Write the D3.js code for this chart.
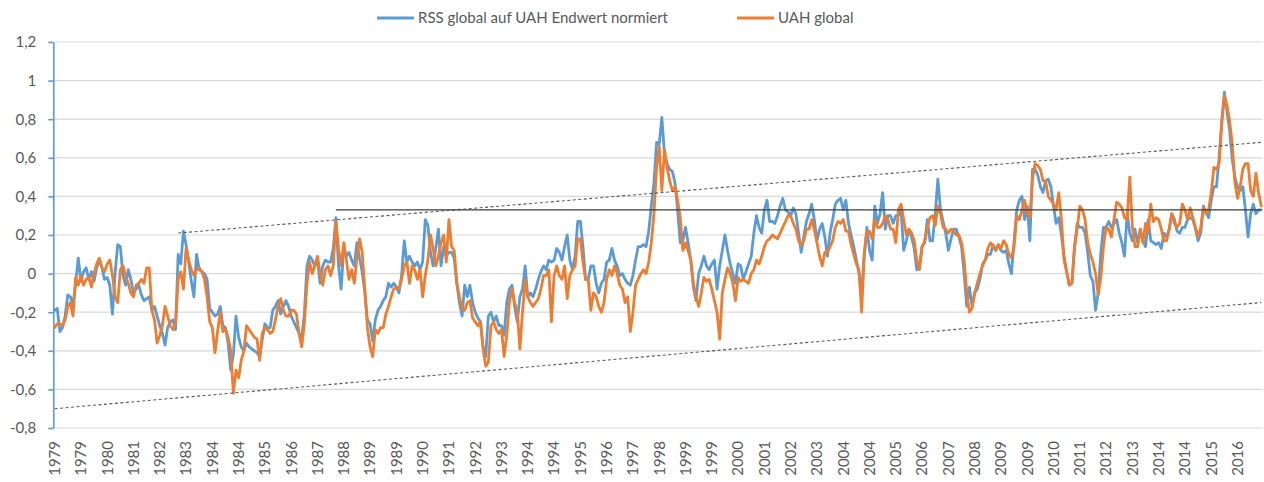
<!DOCTYPE html>
<html><head><meta charset="utf-8">
<script src="https://cdn.jsdelivr.net/npm/d3@7"></script>
<style>
body{margin:0;background:#fff}
svg{display:block}
text{font-family:Lato,"Open Sans",sans-serif;fill:#595959}
</style>
</head><body>
<svg id="chart" width="1264" height="482"></svg>
<script>
// ---------- data ----------
const startYear = 1979;
const seriesNames = ["RSS global auf UAH Endwert normiert", "UAH global"];
const xTickLabels = ["1979","1979","1980","1981","1982","1983","1984","1984","1985","1986","1987","1988","1989","1989","1990","1991","1992","1993","1994","1994","1995","1996","1997","1998","1999","1999","2000","2001","2002","2003","2004","2004","2005","2006","2007","2008","2009","2009","2010","2011","2012","2013","2014","2014","2015","2016"];
const yTicks = [-0.8,-0.6,-0.4,-0.2,0,0.2,0.4,0.6,0.8,1,1.2];

const rss = [
-0.19,-0.18,-0.30,-0.28,-0.22,-0.11,-0.12,-0.16,-0.05,0.08,-0.04,0.01,
0.03,-0.03,0.01,-0.04,0.03,0.07,0.03,-0.03,-0.02,-0.06,-0.21,0.00,
0.15,0.14,-0.01,-0.06,0.02,-0.03,-0.10,-0.08,-0.06,-0.11,-0.14,-0.13,
-0.12,-0.19,-0.17,-0.22,-0.27,-0.31,-0.37,-0.28,-0.25,-0.24,-0.29,0.10,
0.05,0.22,0.15,0.06,-0.04,-0.12,0.10,0.02,0.01,0.00,-0.03,-0.18,
-0.20,-0.22,-0.21,-0.17,-0.27,-0.28,-0.36,-0.50,-0.42,-0.22,-0.33,-0.38,
-0.40,-0.36,-0.38,-0.39,-0.40,-0.41,-0.43,-0.34,-0.26,-0.28,-0.28,-0.19,
-0.17,-0.14,-0.21,-0.17,-0.14,-0.17,-0.22,-0.25,-0.28,-0.31,-0.33,-0.21,
0.04,0.09,0.07,0.04,0.07,-0.05,0.04,0.07,0.06,0.06,0.13,0.29,
0.04,-0.08,0.14,0.09,0.11,0.07,0.04,0.16,0.08,0.01,-0.10,-0.24,
-0.26,-0.35,-0.24,-0.19,-0.17,-0.14,-0.12,-0.05,-0.07,-0.05,-0.07,-0.10,
-0.01,0.17,0.06,0.09,0.06,0.04,0.06,0.02,0.06,0.28,0.25,0.11,
0.04,0.13,0.23,0.04,0.14,0.09,0.11,0.11,0.08,-0.05,-0.15,-0.22,
-0.06,-0.12,-0.06,-0.15,-0.20,-0.23,-0.25,-0.38,-0.43,-0.22,-0.20,-0.25,
-0.22,-0.27,-0.27,-0.32,-0.15,-0.08,-0.06,-0.17,-0.25,-0.12,-0.08,0.04,
-0.12,-0.10,-0.12,-0.08,-0.03,0.01,0.04,0.02,0.07,0.06,0.07,0.13,
0.11,0.07,0.14,0.20,0.07,0.02,0.09,0.27,0.27,0.14,-0.03,-0.03,
0.04,0.04,-0.05,-0.10,-0.05,-0.03,0.06,0.07,0.13,0.07,0.04,-0.01,
0.00,-0.03,-0.05,-0.06,-0.01,0.07,0.14,0.14,0.15,0.14,0.22,0.35,
0.47,0.68,0.67,0.81,0.62,0.57,0.54,0.53,0.47,0.33,0.16,0.17,
0.24,0.16,0.07,-0.07,-0.14,0.00,0.04,0.09,0.04,0.02,0.05,0.07,
-0.08,0.04,0.12,0.20,0.12,0.05,0.00,-0.05,0.05,0.04,-0.03,0.01,
0.05,0.09,0.21,0.30,0.24,0.21,0.33,0.38,0.27,0.27,0.26,0.30,
0.35,0.39,0.33,0.32,0.30,0.34,0.31,0.21,0.11,0.19,0.27,0.31,
0.36,0.28,0.17,0.23,0.26,0.19,0.09,0.21,0.28,0.36,0.38,0.39,
0.33,0.38,0.26,0.20,0.14,0.07,0.00,-0.10,0.10,0.24,0.12,0.07,
0.35,0.26,0.31,0.42,0.23,0.30,0.30,0.26,0.30,0.30,0.33,0.12,
0.17,0.23,0.19,0.13,0.02,0.04,0.14,0.16,0.28,0.17,0.17,0.31,
0.49,0.33,0.27,0.21,0.12,0.18,0.23,0.23,0.19,0.14,0.00,-0.17,
-0.07,-0.17,-0.10,-0.08,-0.03,0.05,0.07,0.10,0.10,0.15,0.12,0.15,
0.12,0.11,0.12,0.05,0.00,0.17,0.33,0.38,0.40,0.28,0.35,0.17,
0.54,0.54,0.51,0.45,0.42,0.48,0.49,0.45,0.35,0.26,0.29,0.20,
0.09,0.01,-0.06,-0.05,0.14,0.26,0.24,0.24,0.21,0.11,-0.01,-0.04,
-0.19,-0.10,0.11,0.24,0.24,0.27,0.24,0.26,0.28,0.21,0.16,0.09,
0.31,0.21,0.17,0.23,0.16,0.23,0.17,0.14,0.28,0.17,0.16,0.15,
0.16,0.13,0.21,0.19,0.23,0.31,0.28,0.22,0.21,0.24,0.24,0.28,
0.29,0.28,0.23,0.17,0.21,0.35,0.32,0.29,0.38,0.45,0.45,0.60,
0.79,0.94,0.84,0.74,0.59,0.50,0.45,0.43,0.45,0.33,0.19,0.31,
0.36,0.31,0.33,0.33
];

const uah = [
-0.28,-0.26,-0.26,-0.27,-0.24,-0.17,-0.15,-0.22,-0.02,-0.06,-0.01,-0.06,
-0.03,-0.02,-0.07,0.00,0.05,0.08,0.03,0.01,0.05,0.07,-0.01,-0.12,
-0.15,0.02,0.04,-0.01,-0.05,-0.10,-0.12,-0.06,-0.05,-0.03,-0.05,0.03,
0.03,-0.19,-0.24,-0.36,-0.32,-0.27,-0.17,-0.22,-0.27,-0.29,-0.26,-0.03,
0.01,-0.08,0.13,0.07,0.02,-0.01,0.02,0.03,0.01,-0.03,-0.12,-0.25,
-0.28,-0.41,-0.30,-0.20,-0.30,-0.29,-0.33,-0.40,-0.62,-0.50,-0.54,-0.45,
-0.40,-0.27,-0.29,-0.31,-0.33,-0.34,-0.45,-0.31,-0.28,-0.29,-0.31,-0.30,
-0.24,-0.17,-0.13,-0.19,-0.22,-0.22,-0.19,-0.19,-0.21,-0.31,-0.38,-0.26,
-0.05,0.06,0.00,0.04,0.09,0.00,-0.06,0.02,0.04,-0.01,0.04,0.27,
0.13,0.04,0.16,0.07,-0.03,0.02,-0.05,0.08,0.18,0.11,-0.08,-0.28,
-0.38,-0.43,-0.29,-0.31,-0.28,-0.28,-0.21,-0.17,-0.12,-0.08,-0.07,-0.08,
-0.03,0.04,0.06,-0.05,0.04,0.02,-0.03,0.02,-0.12,-0.01,0.07,0.20,
0.13,0.04,0.09,0.16,0.20,0.06,0.28,0.14,0.12,-0.05,-0.12,-0.18,
-0.19,-0.15,-0.14,-0.23,-0.25,-0.27,-0.25,-0.39,-0.48,-0.46,-0.27,-0.25,
-0.29,-0.31,-0.29,-0.43,-0.32,-0.15,-0.08,-0.15,-0.20,-0.39,-0.20,-0.03,
-0.12,-0.15,-0.17,-0.15,-0.13,-0.08,-0.01,-0.01,0.02,-0.25,-0.01,0.04,
-0.01,-0.03,0.04,-0.13,-0.01,0.02,0.04,0.18,0.18,0.06,-0.03,-0.03,
-0.19,-0.10,-0.12,-0.17,-0.20,-0.15,-0.03,0.02,-0.01,0.04,0.00,-0.06,
-0.08,-0.15,-0.12,-0.30,-0.20,-0.06,-0.03,0.00,0.02,0.00,0.06,0.16,
0.31,0.55,0.66,0.43,0.64,0.55,0.48,0.43,0.45,0.38,0.29,0.12,
0.16,0.12,0.07,-0.05,-0.12,-0.17,-0.10,-0.02,-0.04,-0.03,-0.08,-0.14,
-0.20,-0.34,-0.10,-0.03,0.03,0.00,-0.05,-0.14,-0.02,-0.04,-0.03,-0.04,
-0.05,0.00,0.02,0.07,0.05,0.09,0.14,0.17,0.18,0.20,0.19,0.18,
0.21,0.24,0.27,0.30,0.30,0.26,0.23,0.17,0.15,0.17,0.23,0.23,
0.28,0.23,0.16,0.09,0.04,0.11,0.11,0.14,0.17,0.24,0.27,0.26,
0.28,0.22,0.22,0.15,0.10,0.05,0.02,-0.20,0.10,0.22,0.22,0.18,
0.28,0.24,0.24,0.26,0.30,0.28,0.23,0.23,0.16,0.33,0.36,0.28,
0.20,0.23,0.21,0.17,0.07,0.02,0.14,0.17,0.24,0.29,0.30,0.25,
0.35,0.31,0.24,0.23,0.21,0.23,0.22,0.20,0.20,0.16,0.07,-0.10,
-0.20,-0.18,-0.10,-0.05,0.00,0.04,0.07,0.13,0.16,0.14,0.12,0.15,
0.13,0.17,0.15,0.10,0.08,0.14,0.30,0.28,0.33,0.38,0.31,0.29,
0.49,0.57,0.56,0.54,0.48,0.48,0.40,0.38,0.36,0.33,0.42,0.28,
0.07,0.01,-0.06,-0.05,0.14,0.23,0.35,0.33,0.28,0.16,0.10,0.06,
0.00,-0.11,-0.02,0.14,0.24,0.23,0.19,0.28,0.37,0.36,0.34,0.29,
0.28,0.50,0.24,0.14,0.14,0.23,0.16,0.26,0.21,0.36,0.27,0.29,
0.28,0.23,0.17,0.17,0.23,0.31,0.26,0.24,0.26,0.36,0.33,0.28,
0.34,0.29,0.24,0.19,0.24,0.34,0.31,0.33,0.42,0.55,0.54,0.57,
0.78,0.92,0.87,0.79,0.67,0.47,0.39,0.45,0.54,0.57,0.57,0.43,
0.40,0.52,0.42,0.35
];

// hand-drawn guide lines: [start month index, start value, end month index, end value]
const lowerTrend = [0, -0.70, 459, -0.15];
const upperTrend = [47, 0.21, 459, 0.68];
const plateauLine = [107, 0.33, 459, 0.33];

// ---------- layout ----------
const M = {left: 53.3, right: 1262.5, top: 42, bottom: 428};
const svg = d3.select("#chart");
const N = rss.length;

const x = d3.scaleBand().domain(d3.range(N)).range([M.left, M.right]).padding(0);
const xc = i => x(i) + x.bandwidth() / 2;
const y = d3.scaleLinear().domain([-0.8, 1.2]).range([M.bottom, M.top]);
const fmt = v => String(Math.round(v * 10) / 10).replace(".", ",");
const FONT = "Lato, 'Open Sans', sans-serif";

// gridlines
svg.append("g").selectAll("line").data(yTicks).join("line")
  .attr("x1", M.left).attr("x2", M.right)
  .attr("y1", d => y(d)).attr("y2", d => y(d))
  .attr("stroke", "#d9d9d9").attr("stroke-width", 1.2);

// x axis labels
const xAxis = svg.append("g").attr("transform", `translate(0,${M.bottom})`)
  .call(d3.axisBottom(x).tickValues(d3.range(0, N, 10)).tickSize(0)
    .tickFormat((d, k) => xTickLabels[k]));
xAxis.select(".domain").remove();
xAxis.selectAll("text")
  .attr("transform", "rotate(-90)")
  .attr("text-anchor", "end")
  .attr("x", -13).attr("y", 0).attr("dy", "0.36em")
  .style("font-size", "15px").style("fill", "#595959")
  .style("font-family", FONT);

// y axis
const yAxis = svg.append("g").attr("transform", `translate(${M.left},0)`)
  .call(d3.axisLeft(y).tickValues(yTicks).tickSize(5).tickSizeOuter(0)
    .tickPadding(12).tickFormat(fmt));
yAxis.select(".domain").attr("stroke", "#5b9bd5").attr("stroke-width", 1.6);
yAxis.selectAll(".tick line").attr("stroke", "#5b9bd5").attr("stroke-width", 1.6);
yAxis.selectAll("text").style("font-size", "15px").style("fill", "#595959")
  .style("font-family", FONT);

// series
const line = d3.line().x((d, i) => xc(i)).y(d => y(d)).curve(d3.curveLinear);
const colors = ["#5b9bd5", "#ed7d31"];
[rss, uah].forEach((s, k) => {
  svg.append("path").datum(s)
    .attr("d", line)
    .attr("fill", "none")
    .attr("stroke", colors[k])
    .attr("stroke-width", 2.8)
    .attr("stroke-linejoin", "round")
    .attr("stroke-linecap", "round");
});

// guide lines
const guide = (g, dash) => svg.append("line")
  .attr("x1", xc(g[0])).attr("y1", y(g[1]))
  .attr("x2", xc(g[2])).attr("y2", y(g[3]))
  .attr("stroke", dash ? "#5a5a5a" : "#3c3c3c")
  .attr("stroke-width", dash ? 1.1 : 1.3)
  .attr("stroke-dasharray", dash ? "3,2.5" : null);
guide(lowerTrend, true);
guide(upperTrend, true);
guide(plateauLine, false);

// legend
const legend = [
  {name: seriesNames[0], color: colors[0], x: 377},
  {name: seriesNames[1], color: colors[1], x: 737}
];
const lg = svg.append("g");
legend.forEach(d => {
  lg.append("line").attr("x1", d.x).attr("x2", d.x + 37).attr("y1", 18).attr("y2", 18)
    .attr("stroke", d.color).attr("stroke-width", 3);
  lg.append("text").attr("x", d.x + 41).attr("y", 18).attr("dy", "0.35em")
    .style("font-size", "15px").style("font-family", FONT).text(d.name);
});
</script>
</body></html>
